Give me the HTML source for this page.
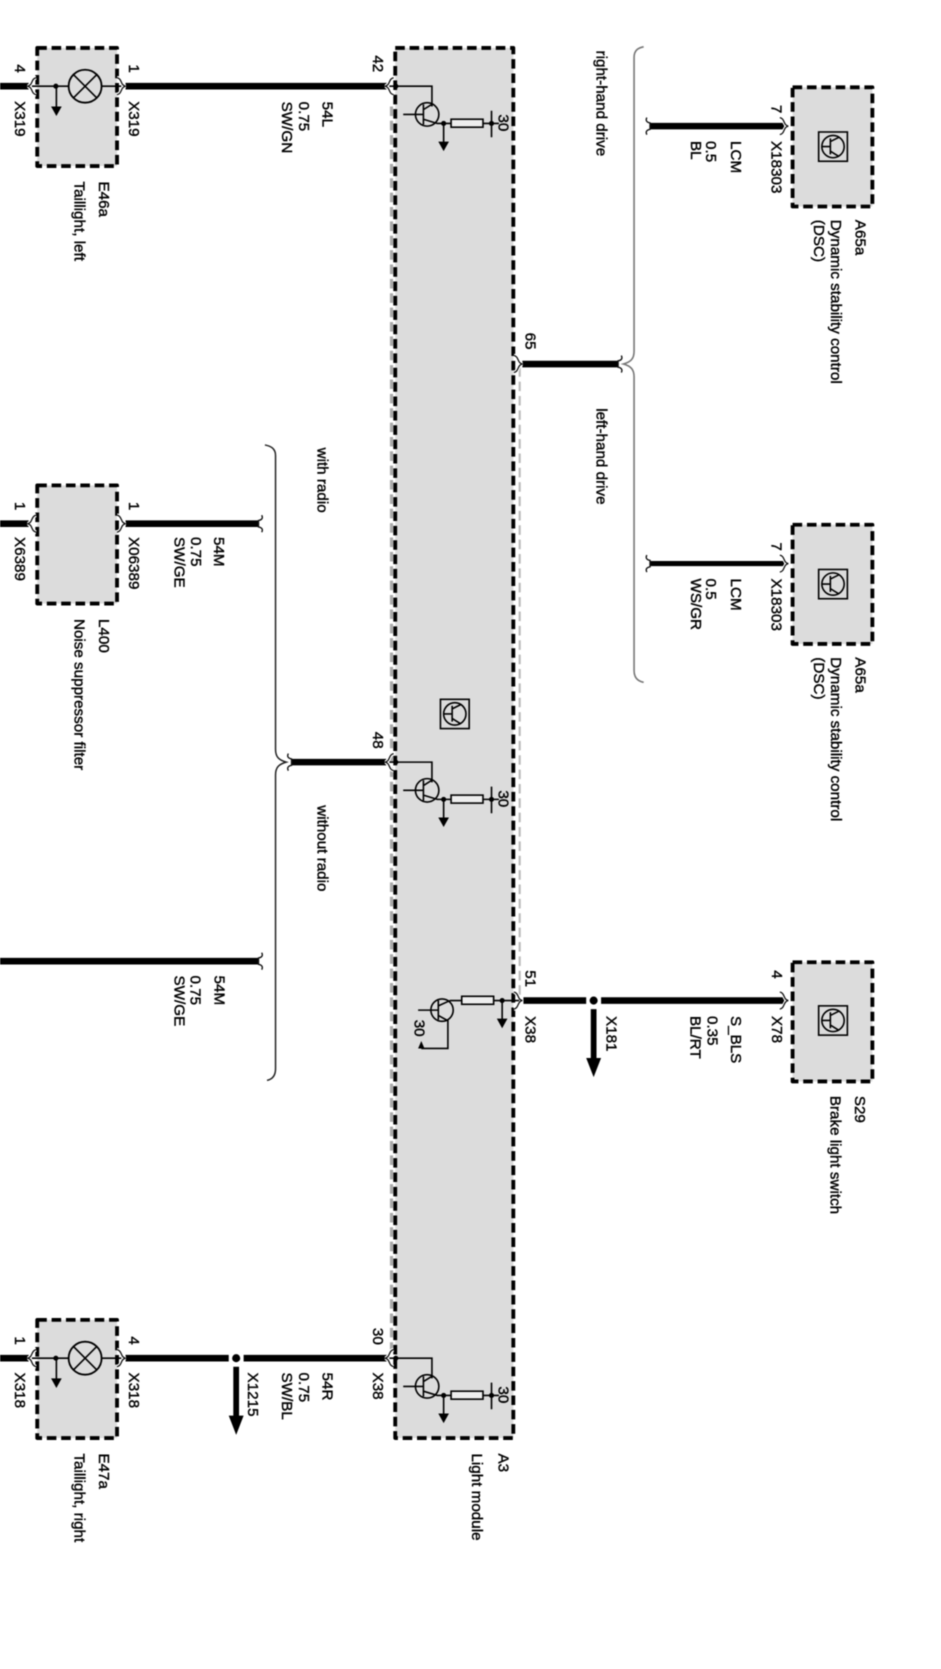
<!DOCTYPE html>
<html><head><meta charset="utf-8"><title>Light module wiring diagram</title>
<style>
html,body{margin:0;padding:0;background:#fff;width:941px;height:1669px;overflow:hidden}
svg{display:block;filter:blur(.6px)}
text{font-family:"Liberation Sans",Arial,sans-serif;font-size:14.3px;fill:#000;stroke:#000;stroke-width:.38}
.box{fill:#dcdcdc;stroke:#000;stroke-width:3.6;stroke-dasharray:9 4.5;stroke-linejoin:round}
.w{stroke:#000;stroke-width:6.2;fill:none}
.t{stroke:#000;stroke-width:1.5;fill:none}
.f{fill:#000;stroke:none}
</style></head><body>
<svg width="941" height="1669" viewBox="0 0 884.5 1568" preserveAspectRatio="none" xmlns="http://www.w3.org/2000/svg">
<defs>
<g id="cl"><path d="M8 -8 C3 -7 5 -1 0 0 C5 1 3 7 8 8" fill="none" stroke="#fff" stroke-width="3.4"/><path d="M8 -8 C3 -7 5 -1 0 0 C5 1 3 7 8 8" fill="none" stroke="#111" stroke-width="1.2"/></g>
<g id="cr"><path d="M-8 -8 C-3 -7 -5 -1 0 0 C-5 1 -3 7 -8 8" fill="none" stroke="#fff" stroke-width="3.4"/><path d="M-8 -8 C-3 -7 -5 -1 0 0 C-5 1 -3 7 -8 8" fill="none" stroke="#111" stroke-width="1.2"/></g>
<path id="el" d="M-2 -8 Q-4 -4 1 -3 V3 Q-4 4 -2 8" fill="none" stroke="#111" stroke-width="1.3"/>
<path id="er" d="M2 -8 Q4 -4 -1 -3 V3 Q4 4 2 8" fill="none" stroke="#111" stroke-width="1.3"/>
<g id="drv">
<path class="t" d="M366 0H406V19"/>
<circle class="t" cx="401.5" cy="26.5" r="11"/>
<path class="t" d="M379 26.5H398M398 17V36M398 22L406 17M398 31L411 35H424"/>
<rect x="424" y="31" width="30" height="7.5" fill="#eee" stroke="#000" stroke-width="1.5"/>
<path class="t" d="M454 35H469M462 23V48"/>
<circle class="f" cx="417" cy="35" r="2.4"/><circle class="f" cx="462" cy="35" r="2.4"/><circle class="f" cx="372" cy="0" r="2.4"/>
<path class="t" d="M417 35V53"/><path class="f" d="M412 52H422L417 61Z"/>
</g>
<g id="icon">
<rect x="0" y="0" width="27" height="27.5" fill="none" stroke="#000" stroke-width="1.5"/>
<circle class="t" cx="13.5" cy="13.7" r="10.5"/>
<path class="t" d="M3 13.7H11M11 6V21M11 9L19 5M11 18L19 23"/>
</g>
<g id="lamp">
<circle cx="0" cy="0" r="15.5" fill="none" stroke="#000" stroke-width="1.7"/>
<path d="M-11 -11L11 11M-11 11L11 -11" stroke="#000" stroke-width="1.5"/>
<path class="t" d="M-50 0H-15.5M15.5 0H34"/>
<circle class="f" cx="-27.5" cy="0" r="2.4"/>
<path class="t" d="M-27 0V20"/><path class="f" d="M-32 19H-22L-27 28Z"/>
</g>
</defs>

<!-- Module A3 -->
<path d="M368 100V1268" stroke="#aaa" stroke-width="3" stroke-dasharray="9 4.5" fill="none"/>
<path d="M488.5 345V935" stroke="#bbb" stroke-width="2" stroke-dasharray="9 4.5" fill="none"/>
<rect class="box" x="371.5" y="45" width="111" height="1306"/>

<!-- Component boxes -->
<rect class="box" x="35" y="45" width="75" height="111"/>
<rect class="box" x="35" y="456" width="75" height="111"/>
<rect class="box" x="35" y="1240" width="75" height="111"/>
<rect class="box" x="745" y="82" width="75" height="112"/>
<rect class="box" x="745" y="493" width="75" height="112"/>
<rect class="box" x="745" y="904" width="75" height="112"/>

<!-- Wires -->
<path class="w" d="M0 81H27M118 81H364"/>
<path class="w" d="M0 492H27M118 492H243"/>
<path class="w" d="M0 903H243"/>
<path class="w" d="M0 1276H27M118 1276H215M229 1276H364"/>
<path class="w" d="M274 716H363"/>
<path class="w" d="M491 342H581"/>
<path class="w" d="M492 940H551M565 940H737"/>
<path class="w" d="M611 118.5H737"/>
<path class="w" style="stroke-width:4.8" d="M611 529.5H737"/>

<!-- Connector marks -->
<use href="#cl" x="26" y="81"/><use href="#cr" x="118" y="81"/><use href="#cl" x="362" y="81"/>
<use href="#cl" x="26" y="492"/><use href="#cr" x="118" y="492"/><use href="#er" x="244" y="492"/>
<use href="#er" x="244" y="903"/>
<use href="#cl" x="26" y="1276"/><use href="#cr" x="118" y="1276"/><use href="#cl" x="362" y="1276"/>
<use href="#cl" x="362" y="716"/><use href="#el" x="273" y="716"/>
<use href="#cr" x="491" y="342"/><use href="#er" x="582" y="342"/>
<use href="#cr" x="491" y="940"/><use href="#cr" x="741" y="940"/>
<use href="#el" x="610" y="118.5"/><use href="#cr" x="741" y="118.5"/>
<use href="#el" x="610" y="529.5"/><use href="#cr" x="741" y="529.5"/>

<!-- Branch arrows -->
<circle class="f" cx="222" cy="1276" r="3.8"/>
<path d="M222 1284V1332" stroke="#000" stroke-width="5.4"/><path class="f" d="M215 1330H229L222 1348Z"/>
<circle class="f" cx="558" cy="940" r="3.8"/>
<path d="M558 948V996" stroke="#000" stroke-width="5.4"/><path class="f" d="M551 994H565L558 1012Z"/>

<!-- Lamps -->
<use href="#lamp" x="80" y="81"/><use href="#lamp" x="80" y="1276"/>

<!-- Transistor drivers -->
<use href="#drv" x="0" y="81"/><use href="#drv" x="0" y="716"/><use href="#drv" x="0" y="1276"/>
<path class="t" d="M488 940H464M434 940H423"/>
<rect x="434" y="936" width="30" height="7.5" fill="#eee" stroke="#000" stroke-width="1.5"/>
<circle class="t" cx="415.5" cy="949" r="10.5"/>
<path class="t" d="M393 949H412M412 940V958M412 945L423 940M412 954L421 959V985H396"/>
<path class="f" d="M393 985L396 978L399 985Z"/>
<circle class="f" cx="472" cy="940" r="2.4"/>
<path class="t" d="M472 940V958"/><path class="f" d="M467 957H477L472 966Z"/>

<!-- Icons -->
<use href="#icon" x="769.5" y="124"/><use href="#icon" x="769.5" y="535"/><use href="#icon" x="769.5" y="945"/><use href="#icon" x="414" y="657"/>

<!-- Braces -->
<path d="M605 44C600 45 596 47 596 54V330C596 337 593 340 586 342C593 344 596 347 596 354V630C596 637 600 640 605 641" fill="none" stroke="#777" stroke-width="1.5"/>
<path d="M249 418C254 419 259 421 259 428V704C259 711 262 714 269 716C262 718 259 721 259 728V1004C259 1011 256 1014 251 1015" fill="none" stroke="#222" stroke-width="1.4"/>

<g transform="translate(-.5 -.5)">
<!-- Labels: E46a -->
<text transform="translate(14.6 61) rotate(90)">4</text>
<text transform="translate(14.6 95.5) rotate(90)">X319</text>
<text transform="translate(121.6 61) rotate(90)">1</text>
<text transform="translate(121.6 95.5) rotate(90)">X319</text>
<text transform="translate(93.4 171) rotate(90)">E46a</text>
<text transform="translate(70.3 171) rotate(90)">Taillight, left</text>
<text transform="translate(303.7 96) rotate(90)">54L</text>
<text transform="translate(281.4 96) rotate(90)">0.75</text>
<text transform="translate(265.8 96) rotate(90)">SW/GN</text>
<text transform="translate(351 52.5) rotate(90)">42</text>
<text transform="translate(469 108) rotate(90)">30</text>
<!-- L400 -->
<text transform="translate(14.6 472) rotate(90)">1</text>
<text transform="translate(14.6 505) rotate(90)">X6389</text>
<text transform="translate(121.6 472) rotate(90)">1</text>
<text transform="translate(121.6 505) rotate(90)">X06389</text>
<text transform="translate(93.4 582) rotate(90)">L400</text>
<text transform="translate(70.3 582) rotate(90)">Noise suppressor filter</text>
<text transform="translate(201.6 505) rotate(90)">54M</text>
<text transform="translate(180 505) rotate(90)">0.75</text>
<text transform="translate(164.3 505) rotate(90)">SW/GE</text>
<!-- lower 54M -->
<text transform="translate(202 917) rotate(90)">54M</text>
<text transform="translate(179.5 917) rotate(90)">0.75</text>
<text transform="translate(164.5 917) rotate(90)">SW/GE</text>
<!-- braces text -->
<text transform="translate(299 421) rotate(90)">with radio</text>
<text transform="translate(299 757) rotate(90)">without radio</text>
<text transform="translate(561 48) rotate(90)">right-hand drive</text>
<text transform="translate(561 384) rotate(90)">left-hand drive</text>
<!-- pins module -->
<text transform="translate(351 688) rotate(90)">48</text>
<text transform="translate(469 743) rotate(90)">30</text>
<text transform="translate(494.5 313) rotate(90)">65</text>
<text transform="translate(494.5 912) rotate(90)">51</text>
<text transform="translate(494.5 955) rotate(90)">X38</text>
<text transform="translate(390 958.5) rotate(90)">30</text>
<!-- S29 -->
<text transform="translate(570.5 955) rotate(90)">X181</text>
<text transform="translate(687.5 955) rotate(90)">S_BLS</text>
<text transform="translate(665.5 955) rotate(90)">0.35</text>
<text transform="translate(649.5 955) rotate(90)">BL/RT</text>
<text transform="translate(726 912) rotate(90)">4</text>
<text transform="translate(726 955) rotate(90)">X78</text>
<text transform="translate(804 1030) rotate(90)">S29</text>
<text transform="translate(781 1030) rotate(90)">Brake light switch</text>
<!-- A65a top -->
<text transform="translate(725.6 99) rotate(90)">7</text>
<text transform="translate(725.6 133) rotate(90)">X18303</text>
<text transform="translate(687.7 133) rotate(90)">LCM</text>
<text transform="translate(664 133) rotate(90)">0.5</text>
<text transform="translate(650 133) rotate(90)">BL</text>
<text transform="translate(804.8 207) rotate(90)">A65a</text>
<text transform="translate(781.8 207) rotate(90)">Dynamic stability control</text>
<text transform="translate(765.5 207) rotate(90)">(DSC)</text>
<!-- A65a lower -->
<text transform="translate(725.6 510) rotate(90)">7</text>
<text transform="translate(725.6 544) rotate(90)">X18303</text>
<text transform="translate(687.7 544) rotate(90)">LCM</text>
<text transform="translate(664 544) rotate(90)">0.5</text>
<text transform="translate(650 544) rotate(90)">WS/GR</text>
<text transform="translate(804.8 618) rotate(90)">A65a</text>
<text transform="translate(781.8 618) rotate(90)">Dynamic stability control</text>
<text transform="translate(765.5 618) rotate(90)">(DSC)</text>
<!-- E47a -->
<text transform="translate(14.6 1256) rotate(90)">1</text>
<text transform="translate(14.6 1290) rotate(90)">X318</text>
<text transform="translate(121.6 1256) rotate(90)">4</text>
<text transform="translate(121.6 1290) rotate(90)">X318</text>
<text transform="translate(93.4 1366) rotate(90)">E47a</text>
<text transform="translate(70.3 1366) rotate(90)">Taillight, right</text>
<text transform="translate(233.4 1290) rotate(90)">X1215</text>
<text transform="translate(303.7 1290) rotate(90)">54R</text>
<text transform="translate(281.4 1290) rotate(90)">0.75</text>
<text transform="translate(265.8 1290) rotate(90)">SW/BL</text>
<text transform="translate(351 1248) rotate(90)">30</text>
<text transform="translate(351 1290) rotate(90)">X38</text>
<text transform="translate(469 1303) rotate(90)">30</text>
<text transform="translate(469 1366) rotate(90)">A3</text>
<text transform="translate(444 1366) rotate(90)">Light module</text>
</g>
</svg>
</body></html>
